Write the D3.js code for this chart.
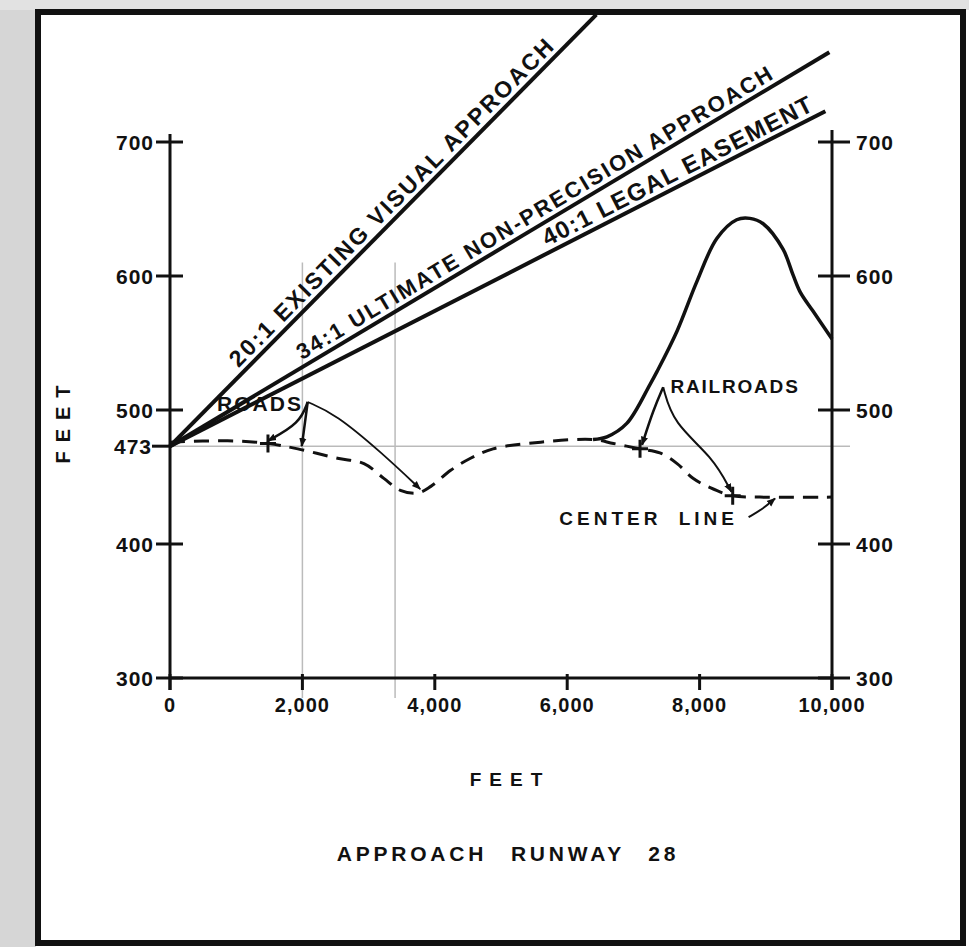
<!DOCTYPE html>
<html>
<head>
<meta charset="utf-8">
<script src="https://cdn.jsdelivr.net/npm/d3@7"></script>
<style>
  html, body { margin: 0; padding: 0; background: #fff; }
  svg { display: block; }
  text { font-family: "Liberation Sans", "DejaVu Sans", sans-serif; font-weight: bold; fill: #111; }
</style>
</head>
<body>
<svg></svg>
<script>
 // values
 let xTicks = [0, 2000, 4000, 6000, 8000, 10000];
 let yTicks = [300, 400, 500, 600, 700];
 let runwayElev = 473;

 let surfaceLabels = ['20:1 EXISTING VISUAL APPROACH', '34:1 ULTIMATE NON-PRECISION APPROACH', '40:1 LEGAL EASEMENT'];
 let surfaceStart = [[0, 473], [0, 473], [0, 473]];
 let surfaceEnd = [[6440, 795], [9960, 767], [9900, 723]];
 let surfaceLabelAt = [1100, 2040, 5740];

 // dashed centre line profile
 let centerDist = [0, 870, 1480, 1930, 2530, 2930, 3230, 3480, 3740, 3940, 4240, 4540, 4880, 5600, 6390, 6700, 7100, 7400, 7660, 7900, 8160, 8500, 8910, 10000];
 let centerElev = [476, 477, 475, 471, 464, 460, 449, 440, 438, 443, 455, 464, 471, 476, 478, 475, 471, 468, 460, 449, 442, 436, 435, 435];

 // solid high ground profile
 let terrainDist = [6390, 6600, 6900, 7250, 7360, 7660, 7960, 8260, 8560, 8760, 8960, 9260, 9410, 9520, 9710, 10000];
 let terrainElev = [478, 480, 490, 519, 529, 559, 596, 628, 642, 643, 639, 620, 601, 588, 574, 553];

 let markerDist = [1480, 7100, 8500];
 let markerElev = [475, 471, 436];

 let width = 969;
 let height = 947;

 let svg = d3.select('svg').attr('width', width).attr('height', height);

 let xScale = d3.scaleLinear().domain([0, 10000]).range([170, 832]);
 let yScale = d3.scaleLinear().domain([300, 700]).range([678, 142]);

 let ink = '#111';

 // grey scan margins outside the frame
 svg.append('rect').attr('x', 0).attr('y', 0).attr('width', 36).attr('height', height).attr('fill', '#d6d6d6');
 svg.append('rect').attr('x', 0).attr('y', 0).attr('width', width).attr('height', 10).attr('fill', '#e2e2e2');

 // frame
 svg.append('rect')
    .attr('x', 38).attr('y', 12)
    .attr('width', 925).attr('height', 931)
    .attr('fill', '#fff').attr('stroke', ink).attr('stroke-width', 6);

 // faint scan lines
 svg.append('line')
    .attr('x1', xScale(0)).attr('x2', xScale(10000) + 18)
    .attr('y1', yScale(runwayElev)).attr('y2', yScale(runwayElev))
    .attr('stroke', '#999').attr('stroke-width', 1);
 [2000, 3400].forEach(d => {
   svg.append('line')
      .attr('x1', xScale(d)).attr('x2', xScale(d))
      .attr('y1', yScale(610)).attr('y2', yScale(285))
      .attr('stroke', '#bbb').attr('stroke-width', 1.5);
 });

 // arrow marker
 let defs = svg.append('defs');
 defs.append('marker')
    .attr('id', 'arrow')
    .attr('viewBox', '0 0 10 10')
    .attr('refX', 9).attr('refY', 5)
    .attr('markerWidth', 9).attr('markerHeight', 9)
    .attr('markerUnits', 'userSpaceOnUse')
    .attr('orient', 'auto')
    .append('path').attr('d', 'M0,1 L10,5 L0,9 Z').attr('fill', ink);

 // axes
 let axisG = svg.append('g');
 axisG.append('line')
    .attr('x1', xScale(0)).attr('x2', xScale(0))
    .attr('y1', yScale(700) - 8).attr('y2', yScale(300) + 12)
    .attr('stroke', ink).attr('stroke-width', 3);
 axisG.append('line')
    .attr('x1', xScale(10000)).attr('x2', xScale(10000))
    .attr('y1', yScale(700) - 12).attr('y2', yScale(300) + 12)
    .attr('stroke', ink).attr('stroke-width', 3);
 axisG.append('line')
    .attr('x1', xScale(0)).attr('x2', xScale(10000))
    .attr('y1', yScale(300)).attr('y2', yScale(300))
    .attr('stroke', ink).attr('stroke-width', 3);

 // y ticks + labels, both sides
 yTicks.forEach(t => {
   axisG.append('line')
      .attr('x1', xScale(0) - 14).attr('x2', xScale(0) + 13)
      .attr('y1', yScale(t)).attr('y2', yScale(t))
      .attr('stroke', ink).attr('stroke-width', 3);
   axisG.append('text')
      .attr('x', xScale(0) - 16).attr('y', yScale(t))
      .attr('dy', '0.36em').attr('text-anchor', 'end')
      .attr('font-size', 21).attr('letter-spacing', 1)
      .text(t);
   axisG.append('line')
      .attr('x1', xScale(10000) - 14).attr('x2', xScale(10000) + 18)
      .attr('y1', yScale(t)).attr('y2', yScale(t))
      .attr('stroke', ink).attr('stroke-width', 3);
   axisG.append('text')
      .attr('x', xScale(10000) + 24).attr('y', yScale(t))
      .attr('dy', '0.36em').attr('text-anchor', 'start')
      .attr('font-size', 21).attr('letter-spacing', 1)
      .text(t);
 });
 axisG.append('line')
    .attr('x1', xScale(0) - 18).attr('x2', xScale(0))
    .attr('y1', yScale(runwayElev)).attr('y2', yScale(runwayElev))
    .attr('stroke', ink).attr('stroke-width', 3);
 axisG.append('text')
    .attr('x', xScale(0) - 18).attr('y', yScale(runwayElev))
    .attr('dy', '0.36em').attr('text-anchor', 'end')
    .attr('font-size', 21).attr('letter-spacing', 1)
    .text(runwayElev);

 // x ticks + labels
 xTicks.forEach(t => {
   axisG.append('line')
      .attr('x1', xScale(t)).attr('x2', xScale(t))
      .attr('y1', yScale(300) - 4).attr('y2', yScale(300) + 12)
      .attr('stroke', ink).attr('stroke-width', 3);
   axisG.append('text')
      .attr('x', xScale(t)).attr('y', yScale(300) + 34)
      .attr('text-anchor', 'middle')
      .attr('font-size', 20).attr('letter-spacing', 1)
      .text(d3.format(',')(t));
 });

 // axis titles
 svg.append('text')
    .attr('transform', `translate(70, 420) rotate(-90)`)
    .attr('text-anchor', 'middle')
    .attr('font-size', 20).attr('letter-spacing', 9)
    .text('FEET');
 svg.append('text')
    .attr('x', 510).attr('y', 786)
    .attr('text-anchor', 'middle')
    .attr('font-size', 19).attr('letter-spacing', 8)
    .text('FEET');
 svg.append('text')
    .attr('x', 508).attr('y', 861)
    .attr('text-anchor', 'middle')
    .attr('font-size', 21).attr('letter-spacing', 3.8)
    .attr('word-spacing', 14)
    .text('APPROACH RUNWAY 28');

 // approach surfaces
 let labelLen = [450, 550, 300];
 let labelSize = [23, 22, 24];
 surfaceLabels.forEach((label, i) => {
   let x1 = xScale(surfaceStart[i][0]), y1 = yScale(surfaceStart[i][1]);
   let x2 = xScale(surfaceEnd[i][0]), y2 = yScale(surfaceEnd[i][1]);
   svg.append('line')
      .attr('x1', x1).attr('y1', y1).attr('x2', x2).attr('y2', y2)
      .attr('stroke', ink).attr('stroke-width', 4);
   let ang = Math.atan2(y2 - y1, x2 - x1) * 180 / Math.PI;
   let lx = xScale(surfaceLabelAt[i]);
   let ly = y1 + (lx - x1) * (y2 - y1) / (x2 - x1);
   svg.append('text')
      .attr('transform', `translate(${lx}, ${ly}) rotate(${ang})`)
      .attr('y', -6)
      .attr('font-size', labelSize[i])
      .attr('textLength', labelLen[i]).attr('lengthAdjust', 'spacing')
      .text(label);
 });

 // dashed centre line
 let lineGen = d3.line().curve(d3.curveCatmullRom.alpha(0.5));
 svg.append('path')
    .attr('d', lineGen(centerDist.map((d, i) => [xScale(d), yScale(centerElev[i])])))
    .attr('fill', 'none').attr('stroke', ink)
    .attr('stroke-width', 3).attr('stroke-dasharray', '15,9');

 // terrain
 svg.append('path')
    .attr('d', lineGen(terrainDist.map((d, i) => [xScale(d), yScale(terrainElev[i])])))
    .attr('fill', 'none').attr('stroke', ink).attr('stroke-width', 3.5);

 // crossing markers
 markerDist.forEach((d, i) => {
   let cx = xScale(d), cy = yScale(markerElev[i]);
   svg.append('path')
      .attr('d', `M${cx - 8},${cy} H${cx + 8} M${cx},${cy - 9} V${cy + 9}`)
      .attr('stroke', ink).attr('stroke-width', 3);
 });

 // annotations
 let curve = d3.line().curve(d3.curveBasis);
 let pt = (d, e) => [xScale(d), yScale(e)];

 svg.append('text')
    .attr('x', xScale(1360)).attr('y', yScale(505))
    .attr('dy', '0.36em').attr('text-anchor', 'middle')
    .attr('font-size', 21).attr('letter-spacing', 2)
    .text('ROADS');
 let roadFrom = pt(2080, 506);
 [[pt(1960, 490), pt(1480, 477)],
  [pt(2010, 480), pt(1990, 473)]].forEach(([mid, to]) => {
   svg.append('path')
      .attr('d', curve([roadFrom, mid, to]))
      .attr('fill', 'none').attr('stroke', ink).attr('stroke-width', 2.5)
      .attr('marker-end', 'url(#arrow)');
 });
 svg.append('path')
    .attr('d', curve([roadFrom, pt(2500, 497), pt(3200, 468), pt(3780, 441)]))
    .attr('fill', 'none').attr('stroke', ink).attr('stroke-width', 1.8)
    .attr('marker-end', 'url(#arrow)');

 svg.append('text')
    .attr('x', xScale(7560)).attr('y', yScale(518))
    .attr('dy', '0.36em').attr('text-anchor', 'start')
    .attr('font-size', 19).attr('letter-spacing', 1.8)
    .text('RAILROADS');
 let railFrom = pt(7450, 517);
 svg.append('path')
    .attr('d', curve([railFrom, pt(7300, 500), pt(7130, 474)]))
    .attr('fill', 'none').attr('stroke', ink).attr('stroke-width', 2.5)
    .attr('marker-end', 'url(#arrow)');
 svg.append('path')
    .attr('d', curve([railFrom, pt(7600, 490), pt(8200, 465), pt(8480, 439)]))
    .attr('fill', 'none').attr('stroke', ink).attr('stroke-width', 2)
    .attr('marker-end', 'url(#arrow)');

 svg.append('text')
    .attr('x', xScale(7230)).attr('y', yScale(419))
    .attr('dy', '0.36em').attr('text-anchor', 'middle')
    .attr('font-size', 19).attr('letter-spacing', 4)
    .attr('word-spacing', 8)
    .text('CENTER LINE');
 svg.append('path')
    .attr('d', curve([pt(8740, 420), pt(8950, 426), pt(9140, 434)]))
    .attr('fill', 'none').attr('stroke', ink).attr('stroke-width', 2)
    .attr('marker-end', 'url(#arrow)');
</script>
</body>
</html>
